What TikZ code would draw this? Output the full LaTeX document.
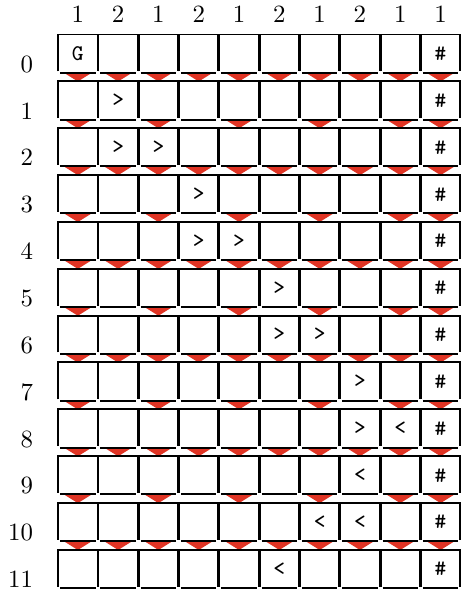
\documentclass[tikz,border=0pt]{standalone}
\definecolor{dropred}{RGB}{224,52,36}
\begin{document}
\begin{tikzpicture}[
  x=0.4025pt, y=-0.4025pt,
  cellbox/.style={minimum width=15.42pt, minimum height=15.01pt, inner sep=0pt},
  tapesym/.style={inner sep=0pt, font=\small\ttfamily},
  numtext/.style={inner sep=0pt},
  wall/.style={line width=0.8pt},
  drop/.style={fill=dropred}
]
\useasboundingbox (0,0) rectangle (466,589);
% weights above the columns
\foreach \w [count=\c from 0] in {1,2,1,2,1,2,1,2,1,1}
  \node[numtext, anchor=base] (w\c) at (77.85+40.3*\c, 22.7) {\w};
% row numbers and empty cells
\foreach \r in {0,...,11} {
  \node[numtext, anchor=base east] (row\r) at (33.5, 72.3+46.85*\r) {\r};
  \foreach \c in {0,...,9}
    \node[cellbox] (cell-\r-\c) at (77.85+40.3*\c, 53.65+46.85*\r) {};
}
% red drops under the cells
\foreach \r in {0,2,...,10}
  \foreach \c in {0,...,9}
    \fill[drop] ([xshift=-5.6pt]cell-\r-\c.south) -- ([xshift=5.6pt]cell-\r-\c.south) -- ([yshift=-3.5pt]cell-\r-\c.south) -- cycle;
\foreach \r in {1,3,...,9}
  \foreach \c in {0,2,4,6,8,9}
    \fill[drop] ([xshift=-5.6pt]cell-\r-\c.south) -- ([xshift=5.6pt]cell-\r-\c.south) -- ([yshift=-3.5pt]cell-\r-\c.south) -- cycle;
% walls and floor of each cell
\foreach \r in {0,...,11}
  \foreach \c in {0,...,9} {
    \draw[wall] ([yshift=0.6pt]cell-\r-\c.south west) |- (cell-\r-\c.north) -| ([yshift=0.6pt]cell-\r-\c.south east);
    \draw[wall] ([xshift=0.8pt]cell-\r-\c.south west) -- ([xshift=-0.8pt]cell-\r-\c.south east);
  }
% tape symbols
\foreach \r/\c/\s in {0/0/G, 1/1/>, 2/1/>, 2/2/>, 3/3/>, 4/3/>, 4/4/>, 5/5/>, 6/5/>, 6/6/>,
    7/7/>, 8/7/>, 8/8/<, 9/7/<, 10/6/<, 10/7/<, 11/5/<}
  \node[tapesym] (sym-\r-\c) at (cell-\r-\c) {\s};
\foreach \r in {0,...,11}
  \node[tapesym] (hash-\r) at (cell-\r-9) {\#};
\end{tikzpicture}
\end{document}
